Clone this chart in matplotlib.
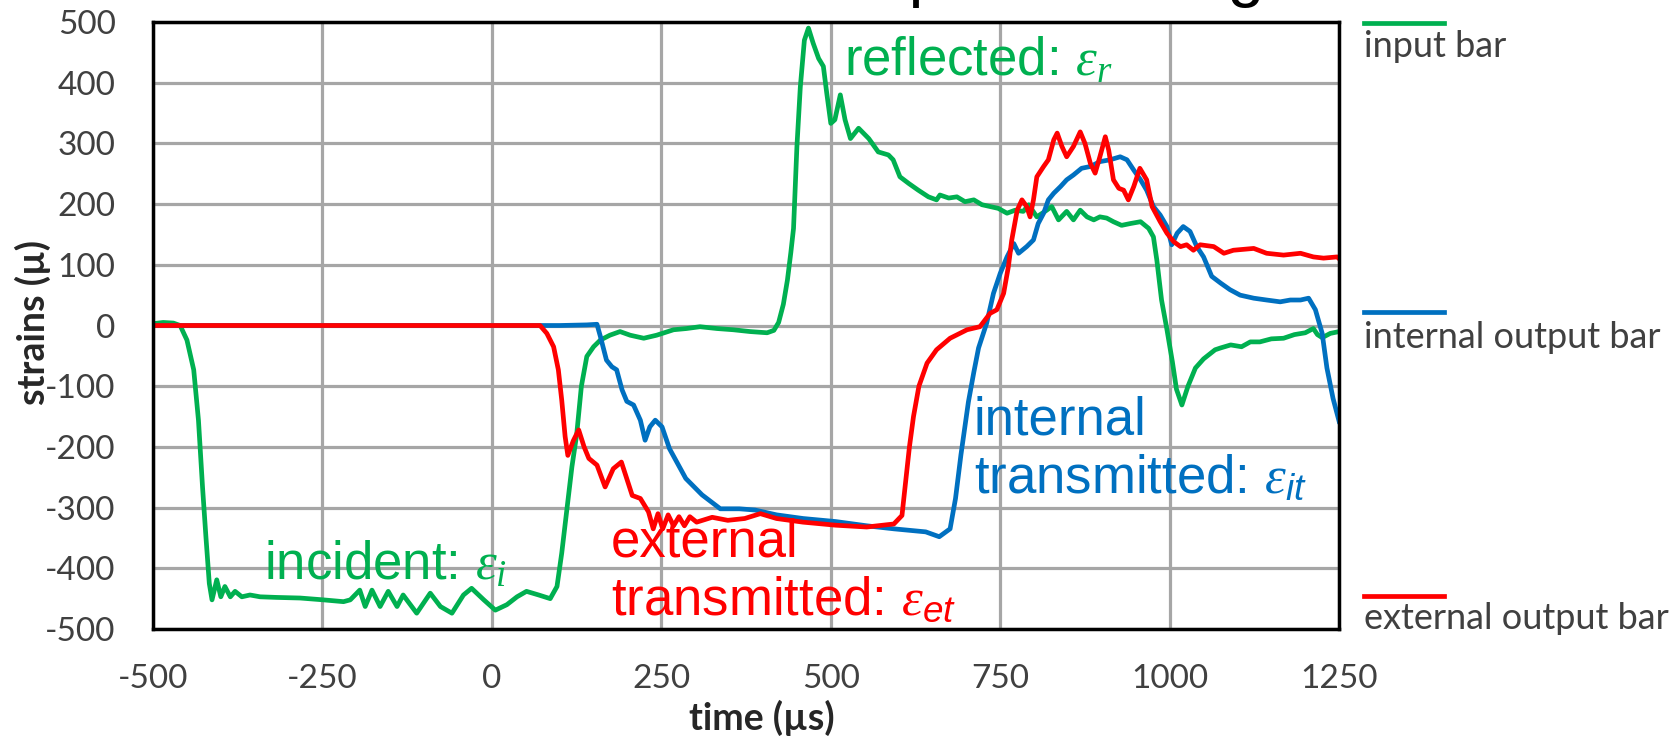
import matplotlib
matplotlib.use("Agg")
import matplotlib.pyplot as plt
from matplotlib.lines import Line2D

# series (time in us, strain in micro)
t_input = [-500, -485, -470, -460, -450, -440, -433, -427, -422, -417, -413, -406, -400, -394,
           -386, -379, -369, -357, -342, -318, -283, -249, -219, -209, -195, -187, -177, -165,
           -153, -140, -131, -111, -91, -76, -59, -42, -30, -12, 5, 22, 37, 51, 69, 86, 96,
           103, 110, 118, 125, 132, 140, 150, 160, 174, 189, 204, 224, 243, 268, 287, 307,
           332, 356, 381, 406, 416, 423, 430, 436, 441, 445, 450, 455, 461, 467, 474, 482,
           489, 494, 500, 506, 514, 521, 529, 541, 556, 570, 585, 592, 602, 615, 629, 644,
           656, 661, 674, 686, 698, 711, 723, 735, 747, 760, 772, 784, 792, 804, 816, 826,
           836, 848, 858, 868, 878, 888, 897, 907, 917, 929, 942, 957, 969, 976, 981, 988,
           996, 1004, 1010, 1018, 1027, 1038, 1050, 1067, 1075, 1090, 1106, 1119, 1133, 1150,
           1168, 1184, 1200, 1212, 1218, 1225, 1237, 1250]
input_bar = [3, 5, 4, 0, -24, -73, -156, -266, -348, -425, -452, -419, -447, -430,
             -447, -438, -447, -444, -447, -448, -449, -452, -455, -452, -436, -463, -436, -463,
             -438, -463, -444, -474, -441, -463, -474, -444, -433, -452, -469, -460, -447, -438, -444, -450, -430,
             -375, -309, -233, -180, -100, -51, -35, -24, -16, -10, -16, -21, -16, -7, -5, -2,
             -5, -7, -10, -12, -8, 5, 35, 75, 120, 160, 295, 393, 470, 490, 465, 440,
             427, 383, 333, 339, 380, 339, 308, 325, 308, 286, 281, 273, 245, 234, 223, 212,
             207, 215, 210, 212, 204, 207, 199, 196, 193, 185, 190, 188, 199, 179, 188, 196,
             174, 188, 174, 190, 179, 174, 179, 177, 171, 165, 168, 171, 160, 146, 108, 42,
             -7, -60, -105, -131, -100, -70, -55, -40, -37, -32, -35, -27, -27, -22,
             -21, -15, -12, -5, -15, -20, -13, -10]

t_internal = [-500, -400, -300, -200, -100, 0, 100, 140, 155, 160, 169, 177, 184, 192, 199, 209,
              219, 226, 233, 241, 251, 262, 286, 310, 337, 365, 388, 420, 459, 507, 553, 593,
              640, 660, 676, 684, 692, 703, 711, 718, 730, 740, 750, 760, 770, 777, 789, 799,
              806, 814, 821, 829, 839, 848, 858, 870, 883, 897, 912, 927, 937, 947, 957, 966,
              976, 986, 996, 1003, 1011, 1020, 1030, 1040, 1050, 1062, 1075, 1089, 1104, 1124,
              1143, 1163, 1178, 1193, 1205, 1215, 1225, 1232, 1241, 1250]
internal_bar = [0, 0, 0, 0, 0, 0, 0, 1, 2, -18, -57, -68, -73, -106, -125, -131,
                -156, -189, -167, -156, -167, -203, -252, -279, -302, -302, -304, -312, -318, -323, -330, -335,
                -340, -348, -335, -285, -213, -126, -77, -37, 4, 53, 86, 113, 135, 119, 130, 141,
                168, 185, 207, 218, 229, 240, 248, 259, 262, 270, 273, 278, 273, 256, 240, 223,
                196, 182, 163, 133, 152, 163, 155, 130, 113, 81, 70, 59, 50, 45,
                42, 39, 42, 42, 45, 26, -13, -70, -120, -158]

t_external = [-500, -400, -300, -200, -100, 0, 71, 81, 91, 98, 103, 108, 112, 120, 128, 136, 143,
              155, 167, 179, 191, 207, 219, 231, 238, 245, 252, 260, 268, 276, 284, 292, 302,
              325, 348, 373, 396, 420, 459, 507, 553, 593, 605, 612, 616, 622, 630, 642, 656,
              676, 701, 720, 735, 745, 755, 762, 767, 775, 782, 789, 794, 799, 804, 814, 821,
              829, 834, 841, 848, 858, 868, 875, 883, 890, 897, 905, 910, 917, 925, 932, 939,
              947, 956, 966, 974, 986, 996, 1006, 1016, 1025, 1035, 1045, 1065, 1080, 1094,
              1124, 1143, 1168, 1193, 1212, 1227, 1247, 1250]
external_bar = [0, 0, 0, 0, 0, 0, 0, -13, -35, -73, -123, -183, -214, -190, -172, -200, -219,
                -230, -266, -236, -225, -280, -285, -307, -335, -310, -335, -312, -330, -315, -330, -315, -324,
                -316, -321, -318, -310, -318, -324, -329, -332, -327, -313, -241, -200, -150, -100, -62, -40,
                -21, -7, -2, 20, 26, 53, 97, 141, 190, 207, 196, 179, 207, 245, 262, 273,
                306, 317, 295, 278, 295, 319, 300, 267, 251, 278, 311, 289, 240, 226, 223, 207,
                229, 259, 240, 196, 171, 152, 138, 130, 133, 124, 133, 130, 119, 124,
                127, 119, 116, 119, 113, 111, 113, 110]

x_ticks = [-500, -250, 0, 250, 500, 750, 1000, 1250]
y_ticks = [-500, -400, -300, -200, -100, 0, 100, 200, 300, 400, 500]

GREEN = '#00B050'
BLUE = '#0070C0'
RED = '#FF0000'
GREY_TXT = '#404040'

plt.rcParams['axes.unicode_minus'] = False
plt.rcParams['mathtext.fontset'] = 'custom'
plt.rcParams['mathtext.rm'] = 'Liberation Serif'
plt.rcParams['mathtext.it'] = 'Liberation Serif:italic'
plt.rcParams['mathtext.sf'] = 'Liberation Sans:italic'

fig = plt.figure(figsize=(16.8, 7.44), dpi=100)
ax = fig.add_axes([0.0911, 0.1546, 0.706, 0.8158])

ax.plot(t_input, input_bar, color=GREEN, lw=3.4, solid_joinstyle='round')
ax.plot(t_internal, internal_bar, color=BLUE, lw=3.4, solid_joinstyle='round')
ax.plot(t_external, external_bar, color=RED, lw=3.4, solid_joinstyle='round')

ax.set_xlim(-500, 1250)
ax.set_ylim(-500, 500)
ax.set_xticks(x_ticks)
ax.set_yticks(y_ticks)
ax.grid(True, color='#A6A6A6', lw=2.3)
ax.set_axisbelow(True)
for s in ax.spines.values():
    s.set_color('black')
    s.set_linewidth(2.5)
ax.tick_params(length=0, labelsize=24, labelcolor=GREY_TXT)
ax.tick_params(axis='x', pad=25)
ax.tick_params(axis='y', pad=27)
for lab in ax.get_xticklabels() + ax.get_yticklabels():
    lab.set_family('Lato')

# annotations on the curves
ann = dict(family='Liberation Sans', fontsize=38, va='baseline', ha='left')
ax.text(520, 411, r"reflected: $\varepsilon_r$", color=GREEN, **ann)
ax.text(-337, -419, r"incident: $\varepsilon_i$", color=GREEN, **ann)
ax.text(175, -381, "external", color=RED, **ann)
ax.text(175, -477, r"transmitted: $\varepsilon_{\mathsf{et}}$", color=RED, **ann)
ax.text(711, -180, "internal", color=BLUE, **ann)
ax.text(711, -276, r"transmitted: $\varepsilon_{\mathsf{it}}$", color=BLUE, **ann)

# axis titles
fig.text(33 / 1680, 0.567, "strains (µ)", rotation=90, ha='center', va='center',
         family='Lato', fontweight='bold', fontsize=27, color='#262626')
fig.text(762 / 1680, 1 - 730 / 744, "time (µs)", ha='center', va='baseline',
         family='Lato', fontweight='bold', fontsize=27, color='#262626')

# legend drawn beside the plot
leg_items = [("input bar", GREEN, 22.7, 57), ("internal output bar", BLUE, 312, 348),
             ("external output bar", RED, 596, 629)]
for name, col, yl, yt in leg_items:
    fig.add_artist(Line2D([1364 / 1680, 1444 / 1680], [1 - yl / 744, 1 - yl / 744],
                          color=col, lw=3.4, transform=fig.transFigure))
    fig.text(1364 / 1680, 1 - yt / 744, name, ha='left', va='baseline',
             family='Lato', fontsize=26, color=GREY_TXT)

# title sits above the picture, only its descenders show
fig.text(716 / 1680, 1 + 6 / 744, "Strain pulse timing", ha='left', va='baseline',
         family='Liberation Sans', fontsize=48, color='black')

fig.savefig("out.png", dpi=100)
